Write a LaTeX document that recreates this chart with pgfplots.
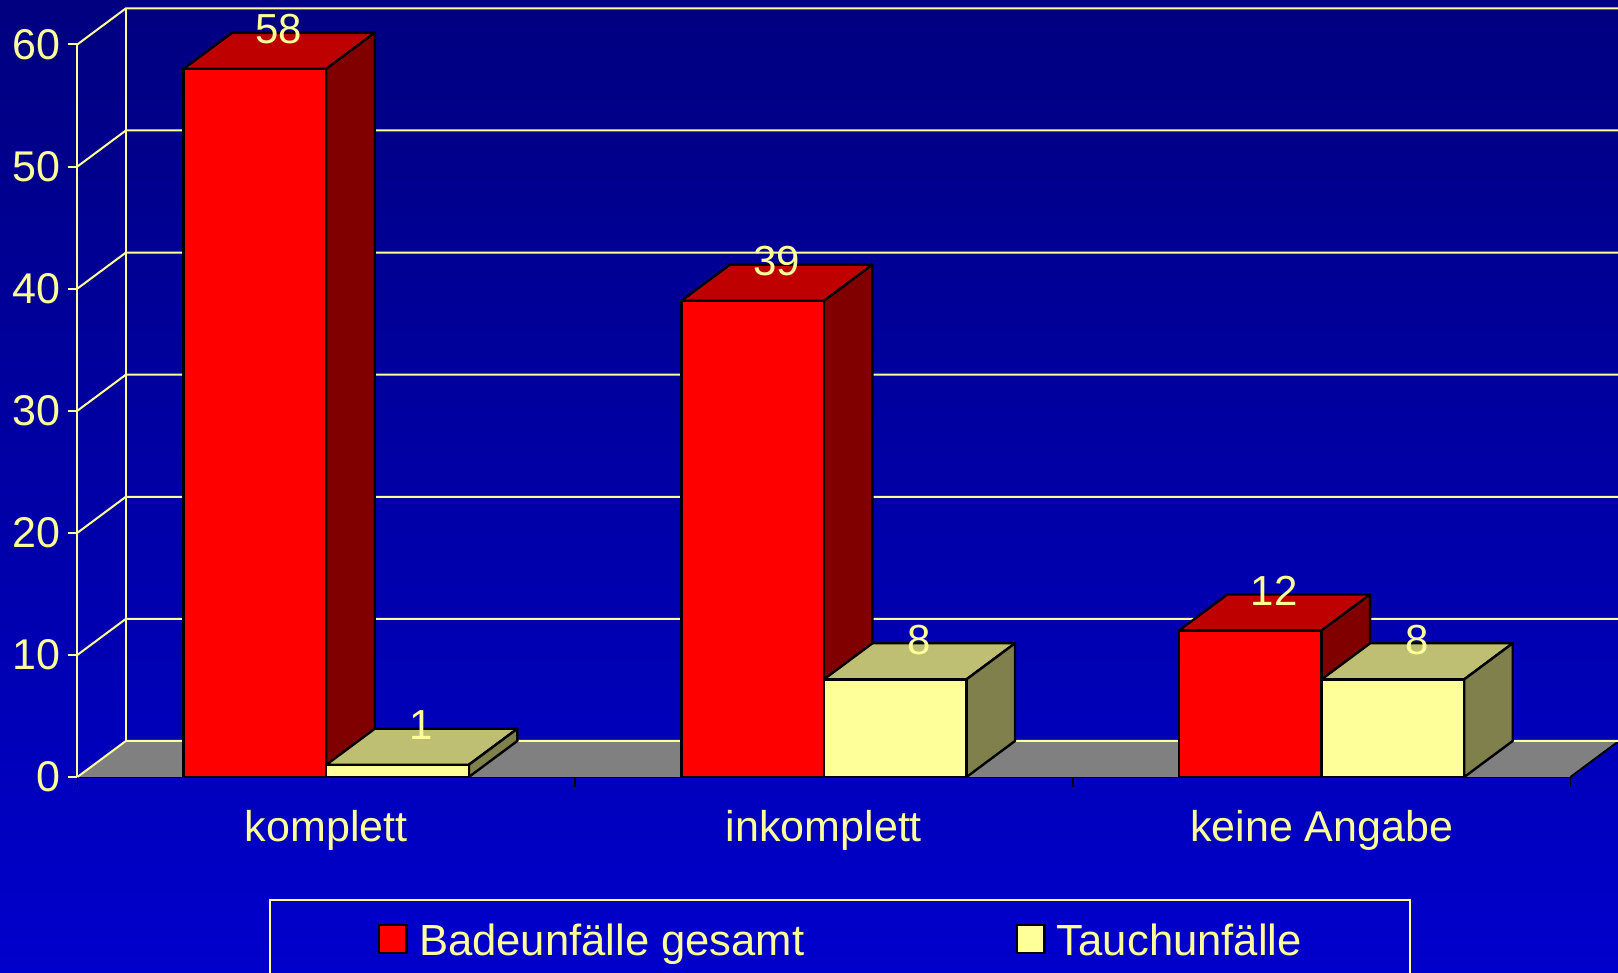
\documentclass[border=0pt]{standalone}
\usepackage{fontspec}
\setmainfont{Liberation Sans}
\usepackage{pgfplots}
\pgfplotsset{compat=1.18}
\definecolor{yl}{HTML}{FFFF99}
\definecolor{redtop}{HTML}{BF0000}
\definecolor{redside}{HTML}{800000}
\definecolor{yltop}{HTML}{BFBF73}
\definecolor{ylside}{HTML}{80804D}
\definecolor{floorgray}{HTML}{808080}

\begin{document}
\begin{tikzpicture}
% page is 809 x 486.5 pt, axis origin at (0,0)
\path[use as bounding box] (-38.7pt,-98pt) rectangle (770.3pt,388.5pt);
\shade[top color=blue!50!black, bottom color=blue!80!black] (-38.7pt,-98pt) rectangle (770.3pt,388.5pt);
\clip (-38.7pt,-98pt) rectangle (770.3pt,388.5pt);
\begin{axis}[
    scale only axis,
    width=746.55pt,
    height=366.3pt,
    xmin=0, xmax=3,
    ymin=0, ymax=60,
    clip=false,
    axis lines=left,
    axis line style={-},
    x axis line style={black, line width=1.4pt},
    y axis line style={yl, line width=1pt},
    xtick={0,1,2,3},
    xticklabels={},
    extra x ticks={0.5,1.5,2.5},
    extra x tick labels={komplett,inkomplett,keine Angabe},
    extra x tick style={major tick length=0pt, xticklabel style={yshift=-13pt}},
    ytick={0,10,...,60},
    tick align=outside,
    major tick length=4.8pt,
    xtick style={black, line width=0.8pt},
    ytick style={yl, line width=1pt},
    tick label style={text=yl, font=\fontsize{21.5}{24}\selectfont},
    /pgf/number format/assume math mode=true,
    face/.style={forget plot, draw=black, line width=1.2pt, line join=round, fill=#1},
    wall/.style={forget plot, yl, line width=1pt},
    front/.style={ybar, bar width=0.2865, bar shift=0pt, draw=black, line width=1.2pt, fill=#1,
        nodes near coords,
        every node near coord/.append style={anchor=center, xshift=11.9pt, yshift=19.8pt,
            text=yl, font=\fontsize{21}{24}\selectfont}},
    legend columns=2,
    legend cell align=left,
    legend image code/.code={\path (-1.6pt,0pt); \draw[#1, line width=1.2pt, draw=black] (0pt,-5.9pt) rectangle (13.8pt,7.9pt);},
    legend style={at={(axis cs:0.3856,-9.97)}, anchor=north west, draw=yl, line width=1pt, fill=none,
        text=yl, font=\fontsize{21.8}{24}\selectfont, inner xsep=52.1pt, inner ysep=10pt,
        /tikz/every odd column/.append style={column sep=3.7pt},
        /tikz/every even column/.append style={column sep=101.9pt}},
]
% floor
\addplot[forget plot, fill=floorgray, draw=none] coordinates {(0,0) (0.0974,2.95) (3.0974,2.95) (3,0)} -- cycle;
\addplot[forget plot, black, line width=1pt] coordinates {(3,0) (3.0974,2.95)};
% walls and grid
\addplot[wall] coordinates {(0.0974,2.95) (0.0974,62.95)};
\addplot[wall] coordinates {(0,0) (0.0974,2.95) (3.0974,2.95)};
\addplot[wall] coordinates {(0,10) (0.0974,12.95) (3.0974,12.95)};
\addplot[wall] coordinates {(0,20) (0.0974,22.95) (3.0974,22.95)};
\addplot[wall] coordinates {(0,30) (0.0974,32.95) (3.0974,32.95)};
\addplot[wall] coordinates {(0,40) (0.0974,42.95) (3.0974,42.95)};
\addplot[wall] coordinates {(0,50) (0.0974,52.95) (3.0974,52.95)};
\addplot[wall] coordinates {(0,60) (0.0974,62.95) (3.0974,62.95)};
% Badeunfaelle: top and side faces
\addplot[face=redtop]  coordinates {(0.2135,58) (0.3109,60.95) (0.5974,60.95) (0.5,58)} -- cycle;
\addplot[face=redside] coordinates {(0.5,0) (0.5974,2.95) (0.5974,60.95) (0.5,58)} -- cycle;
\addplot[face=redtop]  coordinates {(1.2135,39) (1.3109,41.95) (1.5974,41.95) (1.5,39)} -- cycle;
\addplot[face=redside] coordinates {(1.5,0) (1.5974,2.95) (1.5974,41.95) (1.5,39)} -- cycle;
\addplot[face=redtop]  coordinates {(2.2135,12) (2.3109,14.95) (2.5974,14.95) (2.5,12)} -- cycle;
\addplot[face=redside] coordinates {(2.5,0) (2.5974,2.95) (2.5974,14.95) (2.5,12)} -- cycle;
\addplot[front=red] coordinates {(0.35675,58) (1.35675,39) (2.35675,12)};
% Tauchunfaelle: top and side faces
\addplot[face=yltop]  coordinates {(0.5,1) (0.5974,3.95) (0.8839,3.95) (0.7865,1)} -- cycle;
\addplot[face=ylside] coordinates {(0.7865,0) (0.8839,2.95) (0.8839,3.95) (0.7865,1)} -- cycle;
\addplot[face=yltop]  coordinates {(1.5,8) (1.5974,10.95) (1.8839,10.95) (1.7865,8)} -- cycle;
\addplot[face=ylside] coordinates {(1.7865,0) (1.8839,2.95) (1.8839,10.95) (1.7865,8)} -- cycle;
\addplot[face=yltop]  coordinates {(2.5,8) (2.5974,10.95) (2.8839,10.95) (2.7865,8)} -- cycle;
\addplot[face=ylside] coordinates {(2.7865,0) (2.8839,2.95) (2.8839,10.95) (2.7865,8)} -- cycle;
\addplot[front=yl] coordinates {(0.64325,1) (1.64325,8) (2.64325,8)};
\legend{Badeunfälle gesamt, Tauchunfälle}
\end{axis}
\end{tikzpicture}
\end{document}
